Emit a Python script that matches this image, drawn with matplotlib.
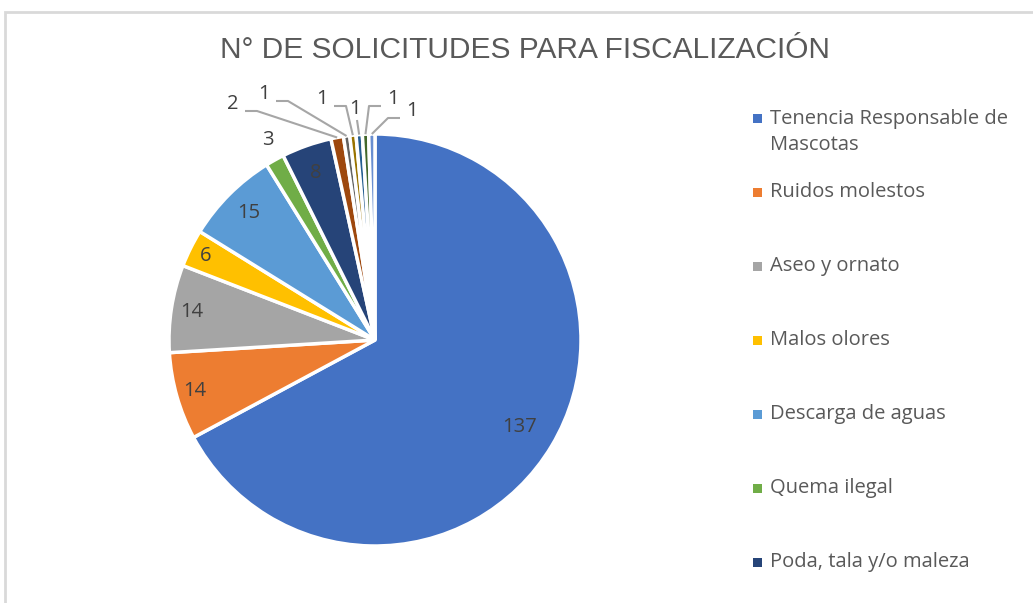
import numpy as np
import matplotlib
matplotlib.use("Agg")
import matplotlib.pyplot as plt
from matplotlib.patches import Rectangle

categorias = ["Tenencia Responsable de\nMascotas", "Ruidos molestos", "Aseo y ornato",
              "Malos olores", "Descarga de aguas", "Quema ilegal", "Poda, tala y/o maleza",
              "Otros 8", "Otros 9", "Otros 10", "Otros 11", "Otros 12", "Otros 13"]
valores = [137, 14, 14, 6, 15, 3, 8, 2, 1, 1, 1, 1, 1]
colores = ["#4472C4", "#ED7D31", "#A5A5A5", "#FFC000", "#5B9BD5", "#70AD47", "#264478",
           "#9E480E", "#636363", "#997300", "#255E91", "#43682B", "#698ED0"]

W, H = 1033, 603
def py(y):
    return H - y

fig = plt.figure(figsize=(W / 100, H / 100), dpi=100)
ax = fig.add_axes([0, 0, 1, 1])

cx, cy, R = 375, 340, 206
wedges, _ = ax.pie(valores, colors=colores, startangle=90, counterclock=False,
                   center=(cx, py(cy)), radius=R,
                   wedgeprops=dict(edgecolor="white", linewidth=2.5))
ax.set_xlim(0, W)
ax.set_ylim(0, H)
ax.set_aspect("equal")
ax.axis("off")

# chart border
ax.add_patch(Rectangle((5, -10), W + 10, py(12) + 10, fill=False,
                       edgecolor="#D9D9D9", linewidth=2))

lab_font = ["Open Sans", "DejaVu Sans"]
txt_col = "#404040"

# labels inside the wedges
dentro = {0: 0.82, 1: 0.91, 2: 0.90, 3: 0.92, 4: 0.87, 6: 0.86}
for i, d in dentro.items():
    w = wedges[i]
    a = np.deg2rad((w.theta1 + w.theta2) / 2)
    ax.text(cx + d * R * np.cos(a), py(cy) + d * R * np.sin(a), str(valores[i]),
            ha="center", va="center", fontsize=14.5, color=txt_col, family=lab_font)

# labels outside (text position px, leader side)
fuera = {5: ((268, 140), None), 7: ((233, 104), 1), 8: ((264, 94), 1),
         9: ((322, 99), 1), 10: ((355, 109), 0), 11: ((393, 99), -1),
         12: ((412, 111), -1)}
for i, ((tx, ty), lado) in fuera.items():
    ax.text(tx, py(ty), str(valores[i]), ha="center", va="center", fontsize=14.5,
            color=txt_col, family=lab_font)
    if lado is None:
        continue
    w = wedges[i]
    a = np.deg2rad((w.theta1 + w.theta2) / 2)
    ex, ey = cx + R * np.cos(a), py(cy) + R * np.sin(a)
    if lado == 0:
        xs = [tx + 2, ex]
        ys = [py(ty + 11), ey]
    else:
        x0 = tx + lado * 12
        x1 = tx + lado * 24
        xs = [x0, x1, ex]
        ys = [py(ty + 7), py(ty + 7), ey]
    ax.plot(xs, ys, color="#A6A6A6", lw=1.5, solid_capstyle="butt")

# title
ax.text(525, py(50), "N° DE SOLICITUDES PARA FISCALIZACIÓN", ha="center", va="center",
        fontsize=21.5, color="#595959",
        family=["Liberation Sans Narrow", "Liberation Sans", "DejaVu Sans"])

# legend (entries past the bottom edge are cut off, as in the original)
for k, (nom, col) in enumerate(zip(categorias, colores)):
    y = 118 if k == 0 else 192 + (k - 1) * 74
    if y > H:
        break
    nl = nom.count("\n")
    ax.add_patch(Rectangle((753, py(y) - 4.5), 9, 9, facecolor=col, edgecolor="none"))
    ax.text(770, py(y + nl * 14), nom, ha="left", va="center", fontsize=14.5,
            color="#595959", family=lab_font, linespacing=1.38)

fig.savefig("out.png", dpi=100)
